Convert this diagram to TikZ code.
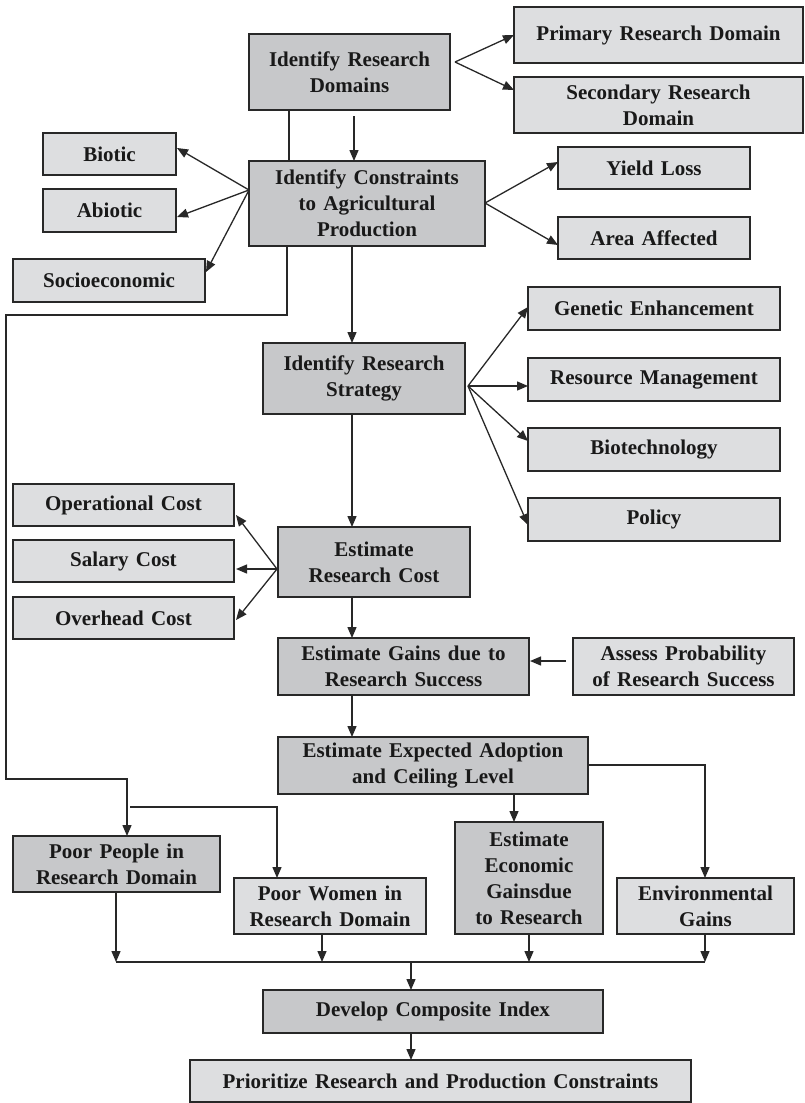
\documentclass[tikz,border=0pt]{standalone}
\usepackage{fontspec}
\setmainfont[WordSpace=1.4]{Liberation Serif}
\usetikzlibrary{arrows.meta,calc}
\definecolor{darkfill}{RGB}{199,200,202}
\definecolor{lightfill}{RGB}{221,222,224}
\definecolor{edge}{RGB}{40,40,40}
\begin{document}
\begin{tikzpicture}[x=1pt,y=-1pt,
  box/.style={draw=edge,line width=1.4pt,inner sep=0pt,outer sep=0pt,align=center,
    font=\fontsize{21}{26}\selectfont\bfseries,text=black!90},
  dbox/.style={box,fill=darkfill},
  lbox/.style={box,fill=lightfill},
  ln/.style={draw=edge,line width=1.3pt},
  arr/.style={ln,-{Triangle[length=11pt,width=9pt]}}]
\useasboundingbox (0,0) rectangle (804,1103);
% top
\node[dbox,minimum width=201pt,minimum height=76pt] (IRD) at (349.5,72) {Identify Research\\Domains};
\node[lbox,minimum width=289pt,minimum height=56pt] (Prim) at (658.5,35) {Primary Research Domain};
\node[lbox,minimum width=289pt,minimum height=56pt] (Sec) at (658.5,105) {Secondary Research\\Domain};
\node[lbox,minimum width=133pt,minimum height=42pt] (Bio) at (109.5,154) {Biotic};
\node[lbox,minimum width=133pt,minimum height=43pt] (Abio) at (109.5,210.5) {Abiotic};
\node[lbox,minimum width=192pt,minimum height=43pt] (Soc) at (109,280.5) {Socioeconomic};
\node[dbox,minimum width=236pt,minimum height=85pt] (ICA) at (367,203.5) {Identify Constraints\\to Agricultural\\Production};
\node[lbox,minimum width=192pt,minimum height=42pt] (Yld) at (654,168) {Yield Loss};
\node[lbox,minimum width=192pt,minimum height=42pt] (Area) at (654,238) {Area Affected};
% strategy
\node[lbox,minimum width=252pt,minimum height=43pt] (GE) at (654,308.5) {Genetic Enhancement};
\node[lbox,minimum width=252pt,minimum height=43pt] (RM) at (654,379.5) {Resource Management};
\node[lbox,minimum width=252pt,minimum height=43pt] (BT) at (654,449.5) {Biotechnology};
\node[lbox,minimum width=252pt,minimum height=43pt] (Pol) at (654,519.5) {Policy};
\node[dbox,minimum width=202pt,minimum height=71pt] (IRS) at (364,378.5) {Identify Research\\Strategy};
% cost
\node[lbox,minimum width=221pt,minimum height=42pt] (Op) at (123.5,505) {Operational Cost};
\node[lbox,minimum width=221pt,minimum height=42pt] (Sal) at (123.5,561) {Salary Cost};
\node[lbox,minimum width=221pt,minimum height=42pt] (Ovh) at (123.5,618) {Overhead Cost};
\node[dbox,minimum width=192pt,minimum height=70pt] (ERC) at (374,562) {Estimate\\Research Cost};
\node[dbox,minimum width=251pt,minimum height=57pt] (EG) at (403.5,666.5) {Estimate Gains due to\\Research Success};
\node[lbox,minimum width=221pt,minimum height=57pt] (AP) at (683.5,666.5) {Assess Probability\\of Research Success};
\node[dbox,minimum width=310pt,minimum height=57pt] (EEA) at (433,765.5) {Estimate Expected Adoption\\and Ceiling Level};
% bottom
\node[dbox,minimum width=207pt,minimum height=56pt] (PP) at (116.5,864) {Poor People in\\Research Domain};
\node[lbox,minimum width=192pt,minimum height=56pt] (PW) at (330,906) {Poor Women in\\Research Domain};
\node[dbox,minimum width=148pt,minimum height=112pt] (EEG) at (529,878) {Estimate\\Economic\\Gainsdue\\to Research};
\node[lbox,minimum width=177pt,minimum height=56pt] (Env) at (705.5,906) {Environmental\\Gains};
\node[dbox,minimum width=340pt,minimum height=43pt] (DCI) at (433,1011.5) {Develop Composite Index};
\node[lbox,minimum width=501pt,minimum height=42pt] (Pri) at (440.5,1081) {Prioritize Research and Production Constraints};
% coordinates
\coordinate (f1) at (455,62);
\coordinate (f2) at (249,190);
\coordinate (f3) at (485,203);
\coordinate (f4) at (468,386);
\coordinate (f5) at (277,569);
\coordinate (lp1) at (6,315);
\coordinate (lp2) at (6,779);
\coordinate (lp3) at (130,807);
\coordinate (b1) at (116,962);
\coordinate (b2) at (705,962);
% connectors
\draw[arr] (f1) -- (Prim.west);
\draw[arr] (f1) -- ($(Sec.west)+(0,-15)$);
\draw[arr] ($(IRD.south)+(4.5,6)$) -- ($(ICA.north)+(-13,0)$);
\draw[ln] ($(IRD.south)+(-60.5,0)$) -- ($(ICA.north)+(-78,0)$);
\draw[arr] ($(ICA.south)+(-80,0)$) |- (lp1) -- (lp2) -| ($(PP.north)+(10.5,0)$);
\draw[arr] (lp3) -| ($(PW.north)+(-53,0)$);
\draw[arr] (f2) -- ($(Bio.east)+(1,-6)$);
\draw[arr] (f2) -- ($(Abio.east)+(1,6.5)$);
\draw[arr] (f2) -- ($(Soc.east)+(1,-8.5)$);
\draw[arr] (f3) -- ($(Yld.west)+(0,-6)$);
\draw[arr] (f3) -- ($(Area.west)+(0,7)$);
\draw[arr] ($(ICA.south)+(-15,0)$) -- ($(IRS.north)+(-12,0)$);
\draw[arr] (f4) -- ($(GE.west)+(0,-1.5)$);
\draw[arr] (f4) -- ($(RM.west)+(0,6.5)$);
\draw[arr] (f4) -- ($(BT.west)+(0,-8.5)$);
\draw[arr] (f4) -- ($(Pol.west)+(0,5.5)$);
\draw[arr] ($(IRS.south)+(-12,0)$) -- ($(ERC.north)+(-22,0)$);
\draw[arr] (f5) -- ($(Op.east)+(2,10)$);
\draw[arr] (f5) -- ($(Sal.east)+(2,8)$);
\draw[arr] (f5) -- ($(Ovh.east)+(2,2)$);
\draw[arr] ($(ERC.south)+(-22,0)$) -- ($(EG.north)+(-51.5,0)$);
\draw[arr] ($(AP.west)+(-7,-5.5)$) -- ($(EG.east)+(1,-5.5)$);
\draw[arr] ($(EG.south)+(-51.5,0)$) -- ($(EEA.north)+(-81,0)$);
\draw[arr] ($(EEA.east)+(0,-0.5)$) -| ($(Env.north)+(-0.5,0)$);
\draw[arr] ($(EEA.south)+(81,0)$) -- ($(EEG.north)+(-15,0)$);
\draw[arr] ($(PP.south)+(-0.5,0)$) -- (b1);
\draw[arr] ($(PW.south)+(-8,0)$) -- ($(PW.south)+(-8,28)$);
\draw[arr] (EEG.south) -- (EEG.south |- b1);
\draw[arr] ($(Env.south)+(-0.5,0)$) -- (b2);
\draw[ln] (b1) -- (b2);
\draw[arr] (DCI.north |- b1) ++(-22,0) -- ($(DCI.north)+(-22,0)$);
\draw[arr] ($(DCI.south)+(-22,0)$) -- ($(Pri.north)+(-29.5,0)$);
\end{tikzpicture}
\end{document}
